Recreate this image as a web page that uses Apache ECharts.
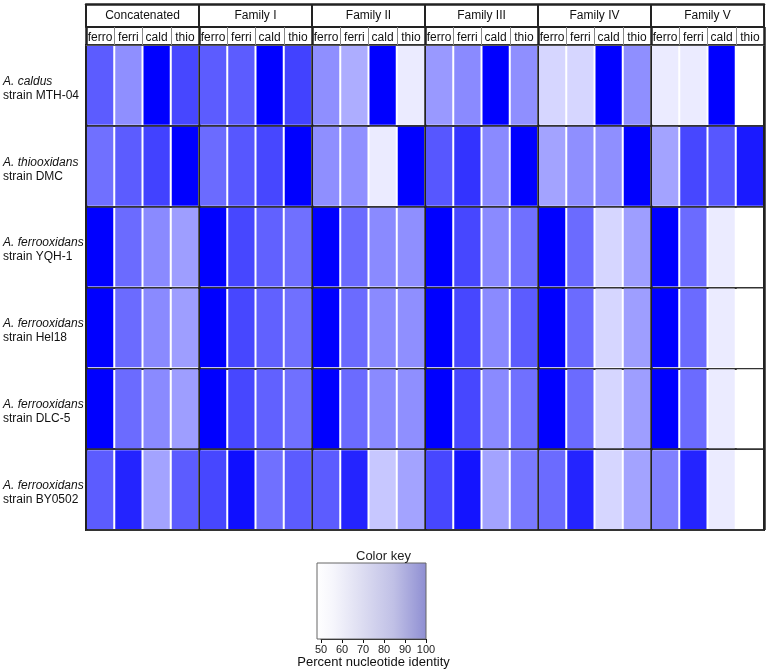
<!DOCTYPE html>
<html><head><meta charset="utf-8">
<script src="https://cdn.jsdelivr.net/npm/echarts@6/dist/echarts.min.js"></script>
<style>html,body{margin:0;padding:0;background:#fff}#c{width:767px;height:670px}</style>
</head><body><div id="c"></div>
<script>
const groups = ['Concatenated', 'Family I', 'Family II', 'Family III', 'Family IV', 'Family V'];
const subLabels = ['ferro', 'ferri', 'cald', 'thio'];
const rowSpecies = ['A. caldus', 'A. thiooxidans', 'A. ferrooxidans', 'A. ferrooxidans', 'A. ferrooxidans', 'A. ferrooxidans'];
const rowStrains = ['strain MTH-04', 'strain DMC', 'strain YQH-1', 'strain Hel18', 'strain DLC-5', 'strain BY0502'];

// percent nucleotide identity, 24 columns: 6 groups x (ferro, ferri, cald, thio)
const caldusMTH04     = [82, 72, 100, 86,  82, 82, 100, 87,  72, 66, 100, 54,  70, 73, 100, 72,  58, 58, 100, 72,  54, 54, 100, 50];
const thiooxidansDMC  = [78, 82, 87, 100,  79, 83, 86, 100,  72, 72, 54, 100,  83, 90, 73, 100,  68, 72, 72, 100,  68, 86, 83, 95];
const ferroYQH1       = [100, 79, 73, 69,  100, 86, 81, 78,  100, 79, 73, 72,  100, 86, 73, 78,  100, 79, 58, 69,  100, 79, 54, 50];
const ferroHel18      = [100, 79, 73, 69,  100, 86, 81, 78,  100, 79, 73, 72,  100, 86, 73, 82,  100, 79, 58, 69,  100, 79, 54, 50];
const ferroDLC5       = [100, 79, 73, 69,  100, 86, 81, 78,  100, 79, 73, 72,  100, 86, 73, 78,  100, 79, 58, 69,  100, 79, 54, 50];
const ferroBY0502     = [82, 93, 68, 82,  86, 97, 78, 82,  82, 93, 61, 68,  86, 96, 68, 76,  79, 93, 58, 68,  75, 93, 54, 50];

const keyRange = [50, 100];

const rows = [caldusMTH04, thiooxidansDMC, ferroYQH1, ferroHel18, ferroDLC5, ferroBY0502];
const columns = groups.flatMap(() => subLabels);
const cells = [];
rows.forEach((vals, r) => vals.forEach((v, c) => cells.push([c, r, v])));

const FONT = '"Liberation Sans", Arial, Helvetica, sans-serif';
const chart = echarts.init(document.getElementById('c'), null, { renderer: 'canvas' });
chart.setOption({
  animation: false,
  backgroundColor: '#fff',
  textStyle: { fontFamily: FONT },
  title: {
    text: 'Color key', left: 351, top: 545,
    textStyle: { fontSize: 13, fontWeight: 'normal', color: '#222', fontFamily: FONT }
  },
  grid: [
    { left: 86, right: 3, top: 45, bottom: 140, show: true, borderColor: '#222', borderWidth: 2, backgroundColor: '#fff' },
    { left: 321, width: 105, top: 563, height: 76 }
  ],
  xAxis: [
    {
      gridIndex: 0, type: 'category', data: columns, position: 'top',
      axisLine: { show: true, lineStyle: { color: '#555', width: 1 } },
      axisTick: { show: true, interval: 0, length: 18, lineStyle: { color: '#888', width: 1 } },
      axisLabel: { interval: 0, fontSize: 12, color: '#111', margin: 1.5 },
      splitLine: { show: true, interval: (i) => i % 4 === 0, lineStyle: { color: '#222', width: 2.5 } }
    },
    {
      gridIndex: 0, type: 'category', data: groups, position: 'top', offset: 18,
      axisLine: { show: true, lineStyle: { color: '#222', width: 2 } },
      axisTick: { show: true, interval: 0, length: 23, lineStyle: { color: '#222', width: 2 } },
      axisLabel: { interval: 0, fontSize: 12, color: '#111', margin: 5 }
    },
    {
      gridIndex: 0, type: 'category', data: groups, position: 'top', offset: 0,
      axisLine: { show: false },
      axisTick: { show: true, interval: 0, length: 18, lineStyle: { color: '#222', width: 2.5 } },
      axisLabel: { show: false }
    },
    {
      gridIndex: 0, type: 'category', data: groups, position: 'top', offset: 41,
      axisLine: { show: true, lineStyle: { color: '#222', width: 2.5 } },
      axisTick: { show: false }, axisLabel: { show: false }
    },
    {
      gridIndex: 1, type: 'value', min: keyRange[0], max: keyRange[1], interval: 10, position: 'bottom',
      axisLine: { show: true, onZero: false, lineStyle: { color: '#111', width: 1 } },
      axisTick: { show: true, length: 4, lineStyle: { color: '#111' } },
      axisLabel: { fontSize: 11, color: '#222', margin: 5 },
      splitLine: { show: false },
      name: 'Percent nucleotide identity', nameLocation: 'middle', nameGap: 17,
      nameTextStyle: { fontSize: 13, color: '#111' }
    }
  ],
  yAxis: [
    {
      gridIndex: 0, type: 'category', data: rowStrains, inverse: true,
      axisLine: { show: false }, axisTick: { show: false },
      axisLabel: {
        margin: 83, align: 'left', padding: [6, 0, 0, 0],
        formatter: (v, i) => `{sp|${rowSpecies[i]}}\n{st|${rowStrains[i]}}`,
        rich: {
          sp: { fontStyle: 'italic', fontSize: 12, lineHeight: 14, color: '#111', fontFamily: FONT },
          st: { fontSize: 12, lineHeight: 14, color: '#111', fontFamily: FONT }
        }
      },
      splitLine: { show: true, interval: 0, lineStyle: { color: '#333', width: 2 } }
    },
    { gridIndex: 1, type: 'value', min: 0, max: 1, show: false }
  ],
  visualMap: {
    type: 'continuous', show: false, min: keyRange[0], max: keyRange[1], dimension: 2, seriesIndex: 0,
    inRange: { color: ['#ffffff', '#0000ff'] }
  },
  series: [
    {
      type: 'custom', xAxisIndex: 0, yAxisIndex: 0, data: cells, encode: { x: 0, y: 1 },
      renderItem: (params, api) => {
        const p = api.coord([api.value(0), api.value(1)]);
        const s = api.size([1, 1]);
        return {
          type: 'rect',
          shape: { x: p[0] - s[0] / 2 + 1, y: p[1] - s[1] / 2 + 1, width: s[0] - 2, height: s[1] - 2 },
          style: { fill: api.visual('color') }
        };
      }
    },
    {
      type: 'custom', xAxisIndex: 4, yAxisIndex: 1, data: [keyRange], encode: { x: [0, 1] },
      renderItem: (params, api) => {
        const a = api.coord([api.value(0), 1]);
        const b = api.coord([api.value(1), 0]);
        return {
          type: 'rect',
          shape: { x: a[0] - 4, y: a[1], width: b[0] - a[0] + 4, height: b[1] - a[1] },
          style: {
            fill: new echarts.graphic.LinearGradient(0, 0, 1, 0, [
              { offset: 0, color: '#ffffff' },
              { offset: 0.15, color: '#f6f6fc' },
              { offset: 0.4, color: '#dedef2' },
              { offset: 0.7, color: '#c0c0e6' },
              { offset: 1, color: '#8e8ed2' }
            ]),
            stroke: '#666', lineWidth: 1
          }
        };
      }
    }
  ]
});
</script></body></html>
